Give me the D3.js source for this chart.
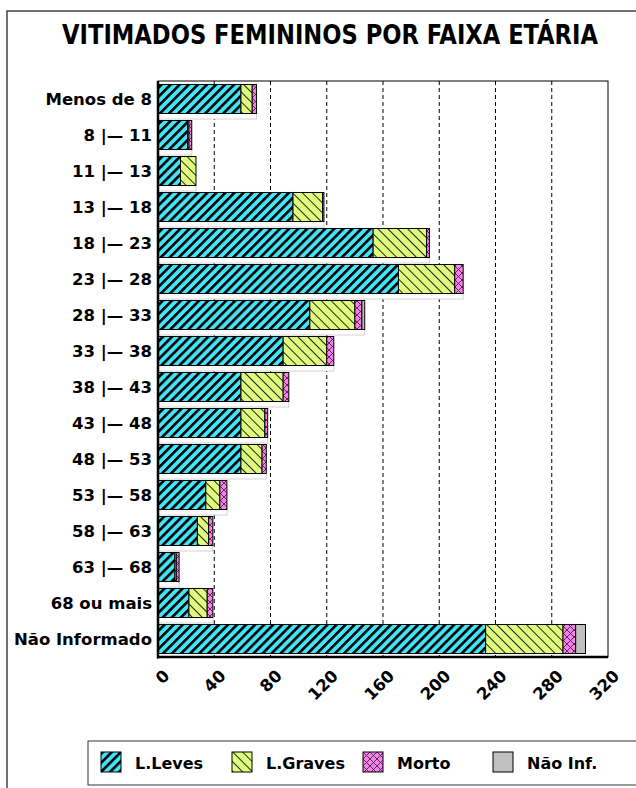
<!DOCTYPE html>
<html>
<head>
<meta charset="utf-8">
<title>Vitimados femininos por faixa etária</title>
<style>
	body { margin: 0; background: #fff; }
	svg { display: block; }
</style>
</head>
<body>
<div id="chart"></div>
<script src="https://cdn.jsdelivr.net/npm/d3@7"></script>
<script>
	// valores
	var categorias = ["Menos de 8", "8 |\u2014 11", "11 |\u2014 13", "13 |\u2014 18", "18 |\u2014 23", "23 |\u2014 28",
		"28 |\u2014 33", "33 |\u2014 38", "38 |\u2014 43", "43 |\u2014 48", "48 |\u2014 53", "53 |\u2014 58",
		"58 |\u2014 63", "63 |\u2014 68", "68 ou mais", "Não Informado"];
	var leves  = [59, 21, 16, 96, 153, 171, 108, 89, 59, 59, 59, 34, 28, 12, 22, 233];
	var graves = [8, 1, 11, 21, 38, 40, 32, 31, 30, 17, 15, 10, 8, 1, 13, 55];
	var morto  = [3, 2, 0, 1, 2, 6, 5, 5, 4, 2, 3, 5, 3, 2, 4, 9];
	var naoInf = [0, 0, 0, 0, 0, 0, 2, 0, 0, 0, 0, 0, 0, 0, 0, 7];
	var series = ["L.Leves", "L.Graves", "Morto", "Não Inf."];
	var xTicks = [0, 40, 80, 120, 160, 200, 240, 280, 320];

	var W = 636, H = 788;
	var plot = {left: 158, right: 608, top: 81, bottom: 657};
	var font = "'DejaVu Sans', sans-serif";

	var svg = d3.select("#chart").append("svg").attr("width", W).attr("height", H);
	var defs = svg.append("defs");

	// padroes de preenchimento
	var pLeves = defs.append("pattern").attr("id", "p0").attr("patternUnits", "userSpaceOnUse")
		.attr("width", 6.4).attr("height", 6.4).attr("patternTransform", "rotate(45)");
	pLeves.append("rect").attr("width", 6.4).attr("height", 6.4).attr("fill", "#44e4f8");
	pLeves.append("rect").attr("width", 2.6).attr("height", 6.4).attr("fill", "#000");

	var pGraves = defs.append("pattern").attr("id", "p1").attr("patternUnits", "userSpaceOnUse")
		.attr("width", 7).attr("height", 7).attr("patternTransform", "rotate(-45)");
	pGraves.append("rect").attr("width", 7).attr("height", 7).attr("fill", "#e0fc7c");
	pGraves.append("rect").attr("width", 1).attr("height", 7).attr("fill", "#222");

	var pMorto = defs.append("pattern").attr("id", "p2").attr("patternUnits", "userSpaceOnUse")
		.attr("width", 7).attr("height", 7);
	pMorto.append("rect").attr("width", 7).attr("height", 7).attr("fill", "#ff7cf0");
	pMorto.append("path").attr("d", "M0,0L7,7M7,0L0,7").attr("stroke", "#333").attr("stroke-width", 0.9);

	var fills = ["url(#p0)", "url(#p1)", "url(#p2)", "#c0c0c0"];

	// moldura externa
	svg.append("path").attr("d", "M7," + (H + 2) + "L7,11L" + (W + 2) + ",11")
		.attr("fill", "none").attr("stroke", "#444").attr("stroke-width", 1.5);

	// titulo
	svg.append("text")
		.attr("x", 330).attr("y", 44)
		.attr("text-anchor", "middle")
		.attr("font-family", "'Liberation Sans Narrow', 'DejaVu Sans Condensed', sans-serif")
		.attr("font-weight", "bold")
		.attr("font-size", 26.5)
		.attr("textLength", 536).attr("lengthAdjust", "spacingAndGlyphs")
		.text("VITIMADOS FEMININOS POR FAIXA ETÁRIA");

	var x = d3.scaleLinear().domain([0, 320]).range([plot.left, plot.right]);
	var y = d3.scaleBand().domain(categorias).range([plot.top, plot.bottom])
		.paddingInner(0.194).paddingOuter(0.097);

	// area do grafico
	svg.append("rect").attr("x", plot.left).attr("y", plot.top)
		.attr("width", plot.right - plot.left).attr("height", plot.bottom - plot.top)
		.attr("fill", "#fff").attr("stroke", "#000").attr("stroke-width", 1);

	// linhas de grade
	svg.append("g").selectAll("line")
		.data(xTicks.filter(function(d) { return d > 0 && d < 320; }))
		.enter().append("line")
		.attr("x1", function(d) { return x(d); }).attr("x2", function(d) { return x(d); })
		.attr("y1", plot.top).attr("y2", plot.bottom)
		.attr("stroke", "#000").attr("stroke-width", 1).attr("stroke-dasharray", "4,3");

	var table = categorias.map(function(c, i) {
		return {cat: c, "L.Leves": leves[i], "L.Graves": graves[i], "Morto": morto[i], "Não Inf.": naoInf[i]};
	});
	var stacked = d3.stack().keys(series)(table);

	// faixa branca sob cada barra
	svg.append("g").selectAll("rect")
		.data(table.slice(0, table.length - 1))
		.enter().append("rect")
		.attr("x", plot.left)
		.attr("y", function(d) { return y(d.cat) + y.bandwidth(); })
		.attr("width", function(d) { return x(d["L.Leves"] + d["L.Graves"] + d["Morto"] + d["Não Inf."]) - plot.left; })
		.attr("height", 5.5)
		.attr("fill", "#fff").attr("stroke", "#c8c8c8").attr("stroke-width", 0.8);

	// barras
	var groups = svg.append("g").selectAll("g")
		.data(stacked).enter().append("g")
		.attr("fill", function(d, i) { return fills[i]; });

	groups.selectAll("rect")
		.data(function(d) { return d.filter(function(s) { return s[1] - s[0] > 0; }); })
		.enter().append("rect")
		.attr("x", function(d) { return x(d[0]); })
		.attr("y", function(d) { return y(d.data.cat); })
		.attr("width", function(d) { return x(d[1]) - x(d[0]); })
		.attr("height", y.bandwidth())
		.attr("stroke", "#000").attr("stroke-width", 1);

	// eixos
	svg.append("line").attr("x1", plot.left).attr("x2", plot.left)
		.attr("y1", plot.top).attr("y2", plot.bottom + 1.5)
		.attr("stroke", "#000").attr("stroke-width", 2.5);
	svg.append("line").attr("x1", plot.left - 1).attr("x2", plot.right)
		.attr("y1", plot.bottom).attr("y2", plot.bottom)
		.attr("stroke", "#000").attr("stroke-width", 2.5);

	var yAxis = svg.append("g").attr("transform", "translate(" + (plot.left - 6) + ",0)")
		.call(d3.axisLeft(y).tickSize(0).tickPadding(0));
	yAxis.select(".domain").remove();
	yAxis.selectAll("text")
		.attr("font-family", font).attr("font-weight", "bold")
		.attr("font-size", 16.5).attr("fill", "#000").attr("dy", "0.36em");

	var xAxis = svg.append("g").attr("transform", "translate(0," + plot.bottom + ")")
		.call(d3.axisBottom(x).tickValues(xTicks).tickSize(0).tickFormat(d3.format("d")));
	xAxis.select(".domain").remove();
	xAxis.selectAll("text")
		.attr("font-family", font).attr("font-weight", "bold")
		.attr("font-size", 16.5).attr("fill", "#000")
		.attr("text-anchor", "end")
		.attr("dy", 0).attr("y", 0)
		.attr("transform", "translate(12,20) rotate(-45)");

	// legenda
	var leg = svg.append("g");
	leg.append("rect").attr("x", 88).attr("y", 741).attr("width", 560).attr("height", 44)
		.attr("fill", "#fff").attr("stroke", "#333").attr("stroke-width", 1);
	var legX = [101, 232, 363, 493];
	var items = leg.selectAll("g.item").data(series).enter().append("g")
		.attr("class", "item")
		.attr("transform", function(d, i) { return "translate(" + legX[i] + ",752)"; });
	items.append("rect").attr("width", 20).attr("height", 20)
		.attr("fill", function(d, i) { return fills[i]; })
		.attr("stroke", "#000").attr("stroke-width", 1);
	items.append("text").attr("x", 34).attr("y", 16.5)
		.attr("font-family", font).attr("font-weight", "bold").attr("font-size", 16)
		.text(function(d) { return d; });
</script>
</body>
</html>
